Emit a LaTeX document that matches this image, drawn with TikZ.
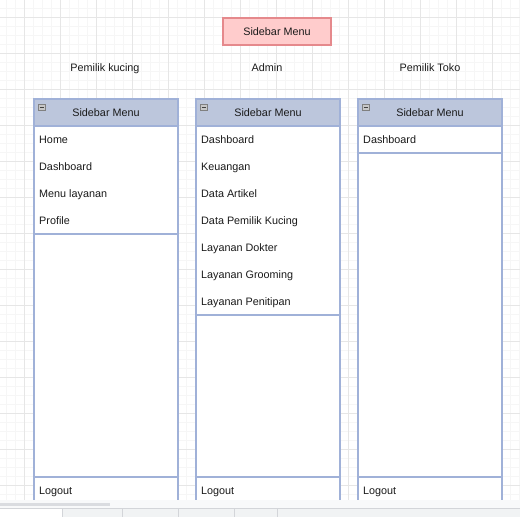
\documentclass[tikz,border=0pt]{standalone}
\usepackage{fontspec}
\setmainfont{Liberation Sans}
\definecolor{gridminor}{HTML}{F6F6F6}
\definecolor{gridmajor}{HTML}{E6E6E6}
\definecolor{lanefill}{HTML}{BCC6DC}
\definecolor{lanedraw}{HTML}{A0B1D8}
\definecolor{redfill}{HTML}{FFCCCC}
\definecolor{reddraw}{HTML}{E5898C}
\definecolor{txt}{HTML}{1A1A1A}
\definecolor{barA}{HTML}{F8F9FA}
\definecolor{barB}{HTML}{F1F3F4}
\definecolor{barC}{HTML}{DADCE0}
\definecolor{barD}{HTML}{D3D5D9}
\begin{document}
\begin{tikzpicture}[x=1pt,y=-1pt,
  font=\fontsize{10.8}{13}\selectfont, text=txt,
  lane/.style={draw=lanedraw, line width=1.3pt},
  header/.style={draw=lanedraw, fill=lanefill, line width=1.3pt},
  item/.style={anchor=west, inner sep=0pt, text height=7.8pt, text depth=2.3pt, yshift=-0.9pt},
  lbl/.style={inner sep=0pt, text height=7.8pt, text depth=2.3pt, yshift=-0.9pt},
  collapse/.style={draw=black!50, fill=black!22, line width=0.6pt, minimum width=6.5pt, minimum height=6pt, inner sep=0pt}]
\useasboundingbox (0,0) rectangle (520,517);
\fill[white] (0,0) rectangle (520,517);
% grid
\foreach \g in {0,...,57} {\draw[gridminor, line width=0.6pt] ({6.3+9*\g},0) -- ({6.3+9*\g},517);}
\foreach \g in {0,...,57} {\draw[gridminor, line width=0.6pt] (0,{8.3+9*\g}) -- (520,{8.3+9*\g});}
\foreach \g in {0,...,14} {\draw[gridmajor, line width=0.7pt] ({24.3+36*\g},0) -- ({24.3+36*\g},517);}
\foreach \g in {0,...,14} {\draw[gridmajor, line width=0.7pt] (0,{17.3+36*\g}) -- (520,{17.3+36*\g});}

% title
\node[draw=reddraw, fill=redfill, line width=1.3pt, minimum width=108pt, minimum height=27pt, inner sep=0pt] (titlebox) at (277,31.5) {};
\node[lbl] (title) at (277,31.5) {Sidebar Menu};

% role labels
\node[lbl] (r1) at (105,67.5) {Pemilik kucing};
\node[lbl] (r2) at (267,67.5) {Admin};
\node[lbl] (r3) at (430,67.5) {Pemilik Toko};

% column 1
\fill[white] (34,99) rectangle (178,520);
\draw[lane] (34,520) -- (34,99) -- (178,99) -- (178,520);
\draw[header] (34,99) rectangle (178,126);
\node[lbl] (h1) at (106,112.5) {Sidebar Menu};
\node[collapse] (c1) at (42,107) {};
\draw[black!75, line width=0.9pt] (39.8,107) -- (44.2,107);
\draw[lane] (34,126) rectangle (178,234);
\node[item] (a1) at (39,139.5) {Home};
\node[item] (a2) at (39,166.5) {Dashboard};
\node[item] (a3) at (39,193.5) {Menu layanan};
\node[item] (a4) at (39,220.5) {Profile};
\draw[lane] (34,477) -- (178,477);
\node[item] (a5) at (39,490.5) {Logout};

% column 2
\fill[white] (196,99) rectangle (340,520);
\draw[lane] (196,520) -- (196,99) -- (340,99) -- (340,520);
\draw[header] (196,99) rectangle (340,126);
\node[lbl] (h2) at (268,112.5) {Sidebar Menu};
\node[collapse] (c2) at (204,107) {};
\draw[black!75, line width=0.9pt] (201.8,107) -- (206.2,107);
\draw[lane] (196,126) rectangle (340,315);
\node[item] (b1) at (201,139.5) {Dashboard};
\node[item] (b2) at (201,166.5) {Keuangan};
\node[item] (b3) at (201,193.5) {Data Artikel};
\node[item] (b4) at (201,220.5) {Data Pemilik Kucing};
\node[item] (b5) at (201,247.5) {Layanan Dokter};
\node[item] (b6) at (201,274.5) {Layanan Grooming};
\node[item] (b7) at (201,301.5) {Layanan Penitipan};
\draw[lane] (196,477) -- (340,477);
\node[item] (b8) at (201,490.5) {Logout};

% column 3
\fill[white] (358,99) rectangle (502,520);
\draw[lane] (358,520) -- (358,99) -- (502,99) -- (502,520);
\draw[header] (358,99) rectangle (502,126);
\node[lbl] (h3) at (430,112.5) {Sidebar Menu};
\node[collapse] (c3) at (366,107) {};
\draw[black!75, line width=0.9pt] (363.8,107) -- (368.2,107);
\draw[lane] (358,126) rectangle (502,153);
\node[item] (d1) at (363,139.5) {Dashboard};
\draw[lane] (358,477) -- (502,477);
\node[item] (d2) at (363,490.5) {Logout};

% bottom bar
\fill[barA] (0,500) rectangle (520,517);
\fill[barB] (0,508) rectangle (520,517);
\fill[white] (0,508) rectangle (62,517);
\fill[barC] (0,502.5) rectangle (110,505.5);
\draw[barD, line width=0.7pt] (0,508) -- (520,508);
\foreach \t in {62,122,178,234,277} {\draw[barD, line width=0.7pt] (\t,508) -- (\t,517);}
\end{tikzpicture}
\end{document}
